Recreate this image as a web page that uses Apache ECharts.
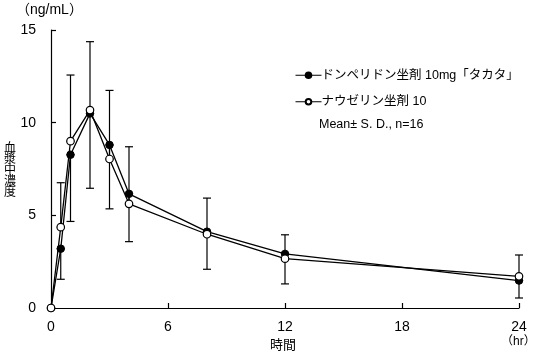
<!DOCTYPE html>
<html>
<head>
<meta charset="utf-8">
<script src="https://cdn.jsdelivr.net/npm/echarts@6/dist/echarts.min.js"></script>
<style>
html,body{margin:0;padding:0;background:#fff;}
#chart{width:533px;height:358px;}
</style>
</head>
<body>
<div id="chart"></div>
<script>
// ---- data ----
const times = [0, 0.5, 1, 2, 3, 4, 8, 12, 24];
const seriesNames = ['ドンペリドン坐剤 10mg「タカタ」', 'ナウゼリン坐剤 10'];
const domperidone = [0, 3.2, 8.27, 10.5, 8.8, 6.16, 4.12, 2.92, 1.48];
const nauzelin = [0, 4.36, 9.0, 10.68, 8.04, 5.62, 3.98, 2.66, 1.71];
const domperidoneSD = [null, 1.65, 3.6, 4.04, 3.45, 2.58, 2.03, 1.62, 0.94]; // drawn downward
const nauzelinSD = [null, 2.4, 3.57, 3.69, 3.7, 3.08, 1.95, 1.29, 1.15];     // drawn upward
const xTicks = [0, 6, 12, 18, 24];
const yTicks = [0, 5, 10, 15];
const yName = ['血', '漿', '中', '濃', '度'];
const noteText = 'Mean± S. D., n=16';

const FONT = '"Liberation Sans", Arial, "Noto Sans CJK JP", sans-serif';
const CJK = '"Noto Sans CJK JP", sans-serif';

const pairs = (ys) => times.map((t, i) => [t, ys[i]]);
const errData = [];
times.forEach((t, i) => {
  if (domperidoneSD[i] != null) errData.push([t, domperidone[i] - domperidoneSD[i], domperidone[i]]);
  if (nauzelinSD[i] != null) errData.push([t, nauzelin[i], nauzelin[i] + nauzelinSD[i]]);
});

const graphics = [
  {type: 'text', left: 16, top: 3, style: {text: '（ng/mL）', fontSize: 14, fontFamily: FONT, fill: '#000'}},
  {type: 'text', left: 270, top: 339, style: {text: '時間', fontSize: 13, fontFamily: FONT, fill: '#000'}},
  {type: 'text', left: 501, top: 336, style: {text: '（hr）', fontSize: 12, fontFamily: FONT, fill: '#000'}},
  {type: 'text', left: 319, top: 118, style: {text: noteText, fontSize: 12.5, fontFamily: FONT, fill: '#000'}},
  {type: 'text', left: 4, top: 141, style: {text: yName.join('\n'), fontSize: 12, lineHeight: 11, fontFamily: CJK, fill: '#000'}}
];

const chart = echarts.init(document.getElementById('chart'), null, {renderer: 'canvas'});
chart.setOption({
  animation: false,
  backgroundColor: '#fff',
  textStyle: {fontFamily: FONT, color: '#000'},
  grid: {left: 51, right: 14, top: 30, bottom: 50},
  legend: {
    orient: 'vertical', left: 290, top: 64, itemWidth: 26, itemHeight: 7, itemGap: 14,
    lineStyle: {width: 1},
    textStyle: {fontFamily: FONT, fontSize: 12.5, color: '#000', padding: [0, 0, 0, -5]},
    data: seriesNames
  },
  xAxis: {
    type: 'value', min: xTicks[0], max: xTicks[xTicks.length - 1], interval: 6,
    axisLine: {lineStyle: {color: '#000', width: 1.2}},
    axisTick: {inside: true, length: 5, lineStyle: {color: '#000', width: 1.2}},
    axisLabel: {color: '#000', fontSize: 14, margin: 12, fontFamily: FONT},
    splitLine: {show: false}
  },
  yAxis: {
    type: 'value', min: yTicks[0], max: yTicks[yTicks.length - 1], interval: 5,
    axisLine: {show: true, lineStyle: {color: '#000', width: 1.2}},
    axisTick: {show: true, inside: true, length: 5, lineStyle: {color: '#000', width: 1.2}},
    axisLabel: {color: '#000', fontSize: 14, margin: 15, fontFamily: FONT},
    splitLine: {show: false}
  },
  graphic: graphics,
  series: [
    {
      type: 'custom', z: 1, silent: true,
      data: errData,
      renderItem: function (params, api) {
        const x = api.coord([api.value(0), api.value(1)])[0];
        const yLo = api.coord([api.value(0), api.value(1)])[1];
        const yHi = api.coord([api.value(0), api.value(2)])[1];
        const w = 4;
        const st = {stroke: '#000', lineWidth: 1.2};
        return {type: 'group', children: [
          {type: 'line', shape: {x1: x, y1: yLo, x2: x, y2: yHi}, style: st},
          {type: 'line', shape: {x1: x - w, y1: yHi, x2: x + w, y2: yHi}, style: st},
          {type: 'line', shape: {x1: x - w, y1: yLo, x2: x + w, y2: yLo}, style: st}
        ]};
      }
    },
    {
      name: seriesNames[0], type: 'line', z: 3, data: pairs(domperidone),
      symbol: 'circle', symbolSize: 7.5, showAllSymbol: true,
      lineStyle: {color: '#000', width: 1.3},
      itemStyle: {color: '#000', borderColor: '#000', borderWidth: 1}
    },
    {
      name: seriesNames[1], type: 'line', z: 4, data: pairs(nauzelin),
      symbol: 'circle', symbolSize: 7.5, showAllSymbol: true,
      lineStyle: {color: '#000', width: 1.3},
      itemStyle: {color: '#fff', borderColor: '#000', borderWidth: 1.2}
    }
  ]
});
</script>
</body>
</html>
